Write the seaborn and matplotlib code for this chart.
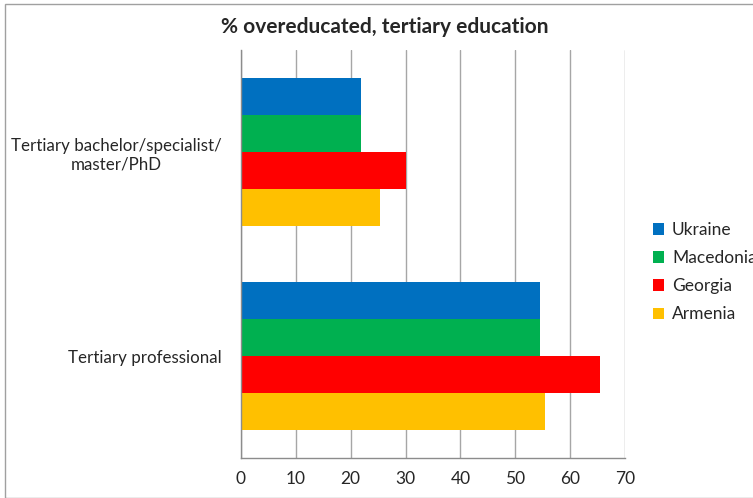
import pandas as pd
import matplotlib.pyplot as plt
import seaborn as sns
from matplotlib.patches import Rectangle

# values
categories = ["Tertiary bachelor/specialist/\nmaster/PhD", "Tertiary professional"]
countries = ["Ukraine", "Macedonia", "Georgia", "Armenia"]
ukraine = [21.9, 54.5]
macedonia = [21.9, 54.5]
georgia = [30.0, 65.5]
armenia = [25.4, 55.5]
colors = ["#0070C0", "#00B050", "#FF0000", "#FFC000"]

rows = []
for country, vals in zip(countries, [ukraine, macedonia, georgia, armenia]):
    for cat, v in zip(categories, vals):
        rows.append({"category": cat, "country": country, "value": v})
df = pd.DataFrame(rows)

sns.set_style("white")
plt.rcParams["font.family"] = ["Lato", "DejaVu Sans"]

fig = plt.figure(figsize=(7.53, 4.98), dpi=100)
ax = fig.add_axes([241 / 753, 1 - 458 / 498, 384 / 753, 408 / 498])

sns.barplot(data=df, y="category", x="value", hue="country", order=categories,
            hue_order=countries, palette=colors, orient="h", width=0.725,
            saturation=1, ax=ax, legend=True, linewidth=0)

ax.set_xlim(0, 70)
ax.set_ylim(1.5, -0.5)
ax.set_xticks(range(0, 71, 10))
ax.set_xlabel("")
ax.set_ylabel("")
ax.grid(axis="x", color="#a6a6a6", linewidth=1)
ax.set_axisbelow(True)
for side in ["top", "right"]:
    ax.spines[side].set_visible(False)
for side in ["left", "bottom"]:
    ax.spines[side].set_color("#8c8c8c")
    ax.spines[side].set_linewidth(1)

ax.tick_params(axis="x", which="major", length=5, color="#8c8c8c", labelsize=12.5, pad=4)
ax.tick_params(axis="y", which="major", length=0, labelsize=12.2, pad=14)
ax.set_yticks([-0.5, 0.5, 1.5], minor=True)
ax.tick_params(axis="y", which="minor", length=5, color="#8c8c8c")
for lbl in ax.get_yticklabels():
    lbl.set_multialignment("center")

handles, labels = ax.get_legend_handles_labels()
ax.legend(handles, labels, loc="upper left", bbox_to_anchor=(646 / 753, 1 - 215 / 498),
          bbox_transform=fig.transFigure, frameon=False, fontsize=12.5,
          handlelength=0.65, handleheight=0.65, handletextpad=0.45, labelspacing=0.7,
          borderaxespad=0)

fig.text(385 / 753, 1 - 27 / 498, "% overeducated, tertiary education",
         ha="center", va="center", fontsize=15, fontweight="bold")

# chart frame
fig.patches.append(Rectangle((5 / 753, 0.5 / 498), 760 / 753, 493 / 498,
                             transform=fig.transFigure, fill=False,
                             edgecolor="#a0a0a0", linewidth=1))

plt.savefig("out.png", dpi=100)
plt.close()
